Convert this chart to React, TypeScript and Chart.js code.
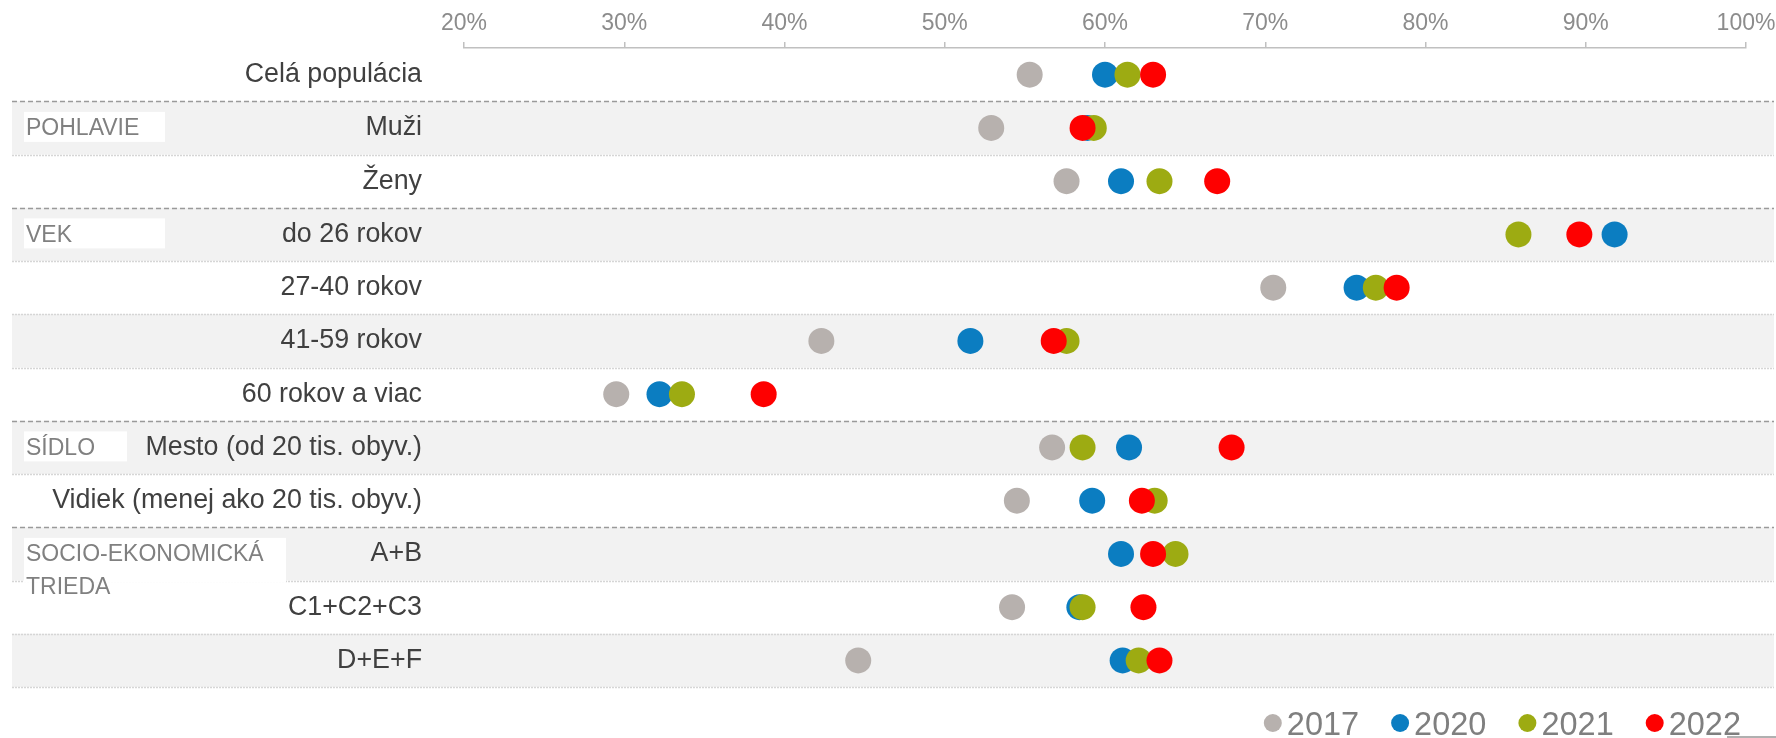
import React, { useEffect, useRef } from 'react';
import { Chart, registerables } from 'chart.js';

Chart.register(...registerables);

const categories = [
  'Celá populácia',
  'Muži',
  'Ženy',
  'do 26 rokov',
  '27-40 rokov',
  '41-59 rokov',
  '60 rokov a viac',
  'Mesto (od 20 tis. obyv.)',
  'Vidiek (menej ako 20 tis. obyv.)',
  'A+B',
  'C1+C2+C3',
  'D+E+F',
];

const years = ['2017', '2020', '2021', '2022'];

const v2017: (number | null)[] = [55.3, 52.9, 57.6, null, 70.5, 42.3, 29.5, 56.7, 54.5, null, 54.2, 44.6];
const v2020: (number | null)[] = [60.0, 58.9, 61.0, 91.8, 75.7, 51.6, 32.2, 61.5, 59.2, 61.0, 58.4, 61.1];
const v2021: (number | null)[] = [61.4, 59.3, 63.4, 85.8, 76.9, 57.6, 33.6, 58.6, 63.1, 64.4, 58.6, 62.1];
const v2022: (number | null)[] = [63.0, 58.6, 67.0, 89.6, 78.2, 56.8, 38.7, 67.9, 62.3, 63.0, 62.4, 63.4];

const tickValues = [20, 30, 40, 50, 60, 70, 80, 90, 100];

// group names and the row they sit in
const groupNames: string[][] = [['POHLAVIE'], ['VEK'], ['SÍDLO'], ['SOCIO-EKONOMICKÁ', 'TRIEDA']];
const groupRows = [1, 3, 7, 9];
// boundaries (after row index) that separate groups
const groupBreaks = [0, 2, 6, 8];

const seriesValues = [v2017, v2020, v2021, v2022];
const seriesColors = ['#b7b1ae', '#0b7dc1', '#9dab12', '#fe0000'];

const FONT = '"Liberation Sans", Arial, sans-serif';

const backgroundPlugin = {
  id: 'rowBands',
  beforeDraw(chart: any) {
    const { ctx, chartArea } = chart;
    const y = chart.scales.y;
    const n = categories.length;
    const h = (chartArea.bottom - chartArea.top) / n;
    const left = 12;
    const right = 1774;
    ctx.save();
    // bands
    for (let i = 0; i < n; i++) {
      if (i % 2 === 1) {
        const c = y.getPixelForValue(i);
        ctx.fillStyle = '#f2f2f2';
        ctx.fillRect(left, c - h / 2, right - left, h);
      }
    }
    // separators
    for (let i = 0; i < n; i++) {
      const c = y.getPixelForValue(i);
      const yy = Math.round(c + h / 2) + 0.5;
      ctx.beginPath();
      if (groupBreaks.includes(i)) {
        ctx.strokeStyle = '#9a9a9a';
        ctx.lineWidth = 1.5;
        ctx.setLineDash([5, 3]);
      } else {
        ctx.strokeStyle = '#d6d6d6';
        ctx.lineWidth = 1.5;
        ctx.setLineDash([2, 1]);
      }
      ctx.moveTo(left, yy);
      ctx.lineTo(right, yy);
      ctx.stroke();
    }
    ctx.setLineDash([]);
    // group labels
    const boxWidths = [141, 141, 103, 262];
    groupNames.forEach((lines, gi) => {
      const c = y.getPixelForValue(groupRows[gi]);
      const bh = lines.length > 1 ? 45 : 30;
      ctx.fillStyle = '#ffffff';
      ctx.fillRect(24, c - 16, boxWidths[gi], bh);
      ctx.fillStyle = '#808080';
      ctx.font = `23px ${FONT}`;
      ctx.textAlign = 'left';
      ctx.textBaseline = 'middle';
      lines.forEach((t, li) => {
        ctx.fillText(t, 26, c + 1 + li * 33);
      });
    });
    ctx.restore();
  },
  afterDraw(chart: any) {
    const { ctx } = chart;
    ctx.save();
    ctx.font = `32.5px ${FONT}`;
    const r = 9;
    const gapDot = 5;
    const gapItem = 32;
    const widths = years.map((t) => ctx.measureText(t).width);
    const total = widths.reduce((a, w) => a + 2 * r + gapDot + w, 0) + gapItem * (years.length - 1);
    let x = 1741 - total;
    const cy = 723;
    years.forEach((t, i) => {
      ctx.fillStyle = seriesColors[i];
      ctx.beginPath();
      ctx.arc(x + r, cy, r, 0, Math.PI * 2);
      ctx.fill();
      x += 2 * r + gapDot;
      ctx.fillStyle = '#7f7f7f';
      ctx.textAlign = 'left';
      ctx.textBaseline = 'alphabetic';
      ctx.fillText(t, x, 735);
      x += widths[i] + gapItem;
    });
    ctx.strokeStyle = '#b0b0b0';
    ctx.lineWidth = 2;
    ctx.beginPath();
    ctx.moveTo(1727, 737);
    ctx.lineTo(1776, 737);
    ctx.stroke();
    ctx.restore();
  },
};

export default function App() {
  const ref = useRef<HTMLCanvasElement | null>(null);
  useEffect(() => {
    if (!ref.current) return;
    const datasets = years.map((yr, si) => ({
      label: yr,
      order: years.length - 1 - si,
      data: seriesValues[si]
        .map((v, i) => (v === null ? null : { x: v, y: categories[i] }))
        .filter((p) => p !== null),
      backgroundColor: seriesColors[si],
      borderWidth: 0,
      pointRadius: 13,
      pointHoverRadius: 13,
      pointStyle: 'circle',
    }));
    const chart = new Chart(ref.current, {
      type: 'scatter',
      data: { labels: categories, datasets: datasets as any },
      options: {
        responsive: false,
        maintainAspectRatio: false,
        animation: false,
        devicePixelRatio: 1,
        events: [],
        layout: { padding: { left: 0, right: 30, top: 0, bottom: 51 } },
        plugins: { legend: { display: false }, tooltip: { enabled: false } },
        scales: {
          x: {
            type: 'linear',
            position: 'top',
            min: 20,
            max: 100,
            afterBuildTicks: (s: any) => {
              s.ticks = tickValues.map((v) => ({ value: v }));
            },
            afterFit: (s: any) => {
              s.height = 48;
              s.paddingLeft = 0;
              s.paddingRight = 0;
            },
            ticks: {
              callback: (v: any) => `${v}%`,
              color: '#8c8c8c',
              font: { family: FONT, size: 23 },
              padding: 5,
              maxRotation: 0,
            },
            grid: { drawOnChartArea: false, drawTicks: true, tickLength: 6, color: '#c0c0c0', lineWidth: 1.5 },
            border: { display: true, color: '#c0c0c0', width: 1.5 },
          },
          y: {
            type: 'category',
            labels: categories,
            offset: true,
            position: 'left',
            afterFit: (s: any) => {
              s.width = 464;
              s.paddingTop = 0;
              s.paddingBottom = 0;
            },
            ticks: {
              color: '#404040',
              font: { family: FONT, size: 26.8 },
              padding: 42,
              autoSkip: false,
            },
            grid: { display: false, drawTicks: false },
            border: { display: false },
          },
        },
      },
      plugins: [backgroundPlugin],
    });
    return () => chart.destroy();
  }, []);
  return (
    <div style={{ position: 'absolute', left: 0, top: 0, width: 1776, height: 738, background: '#ffffff' }}>
      <canvas ref={ref} width={1776} height={738} style={{ width: 1776, height: 738, display: 'block' }} />
    </div>
  );
}
